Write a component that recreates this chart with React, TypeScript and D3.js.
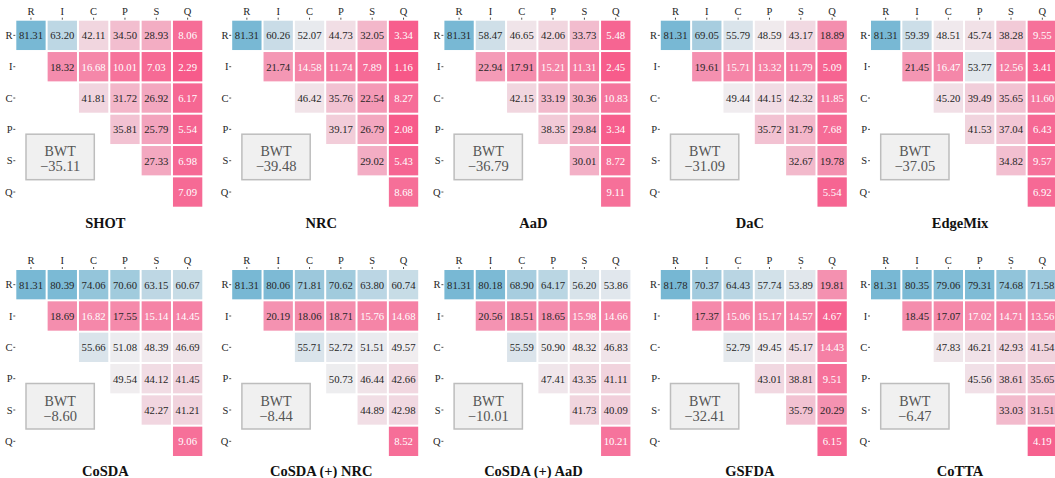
import React from "react";
import * as d3 from "d3";

// ---------- data ----------
const LABELS = ["R", "I", "C", "P", "S", "Q"];
const METHODS = ["SHOT", "NRC", "AaD", "DaC", "EdgeMix", "CoSDA", "CoSDA (+) NRC", "CoSDA (+) AaD", "GSFDA", "CoTTA"];

const SHOT = [
  [81.31, 63.2, 42.11, 34.5, 28.93, 8.06],
  [18.32, 16.68, 10.01, 7.03, 2.29],
  [41.81, 31.72, 26.92, 6.17],
  [35.81, 25.79, 5.54],
  [27.33, 6.98],
  [7.09],
];
const NRC = [
  [81.31, 60.26, 52.07, 44.73, 32.05, 3.34],
  [21.74, 14.58, 11.74, 7.89, 1.16],
  [46.42, 35.76, 22.54, 8.27],
  [39.17, 26.79, 2.08],
  [29.02, 5.43],
  [8.68],
];
const AAD = [
  [81.31, 58.47, 46.65, 42.06, 33.73, 5.48],
  [22.94, 17.91, 15.21, 11.31, 2.45],
  [42.15, 33.19, 30.36, 10.83],
  [38.35, 29.84, 3.34],
  [30.01, 8.72],
  [9.11],
];
const DAC = [
  [81.31, 69.05, 55.79, 48.59, 43.17, 18.89],
  [19.61, 15.71, 13.32, 11.79, 5.09],
  [49.44, 44.15, 42.32, 11.85],
  [35.72, 31.79, 7.68],
  [32.67, 19.78],
  [5.54],
];
const EDGEMIX = [
  [81.31, 59.39, 48.51, 45.74, 38.28, 9.55],
  [21.45, 16.47, 53.77, 12.56, 3.41],
  [45.2, 39.49, 35.65, 11.6],
  [41.53, 37.04, 6.43],
  [34.82, 9.57],
  [6.92],
];
const COSDA = [
  [81.31, 80.39, 74.06, 70.6, 63.15, 60.67],
  [18.69, 16.82, 17.55, 15.14, 14.45],
  [55.66, 51.08, 48.39, 46.69],
  [49.54, 44.12, 41.45],
  [42.27, 41.21],
  [9.06],
];
const COSDA_NRC = [
  [81.31, 80.06, 71.81, 70.62, 63.8, 60.74],
  [20.19, 18.06, 18.71, 15.76, 14.68],
  [55.71, 52.72, 51.51, 49.57],
  [50.73, 46.44, 42.66],
  [44.89, 42.98],
  [8.52],
];
const COSDA_AAD = [
  [81.31, 80.18, 68.9, 64.17, 56.2, 53.86],
  [20.56, 18.51, 18.65, 15.98, 14.66],
  [55.59, 50.9, 48.32, 46.83],
  [47.41, 43.35, 41.11],
  [41.73, 40.09],
  [10.21],
];
const GSFDA = [
  [81.78, 70.37, 64.43, 57.74, 53.89, 19.81],
  [17.37, 15.06, 15.17, 14.57, 4.67],
  [52.79, 49.45, 45.17, 14.43],
  [43.01, 38.81, 9.51],
  [35.79, 20.29],
  [6.15],
];
const COTTA = [
  [81.31, 80.35, 79.06, 79.31, 74.68, 71.58],
  [18.45, 17.07, 17.02, 14.71, 13.56],
  [47.83, 46.21, 42.93, 41.54],
  [45.56, 38.61, 35.65],
  [33.03, 31.51],
  [4.19],
];
const MATRICES = [SHOT, NRC, AAD, DAC, EDGEMIX, COSDA, COSDA_NRC, COSDA_AAD, GSFDA, COTTA];
const BWT = [-35.11, -39.48, -36.79, -31.09, -37.05, -8.6, -8.44, -10.01, -32.41, -6.47];

// ---------- layout / style ----------
const W = 1055;
const H = 478;
const COL_LEFT = [15.3, 231.2, 443.4, 659.8, 870];
const ROW_TOP = [19.7, 269];
const TITLE_BASE = [228.5, 475.5];
const SIZE = 188;
const FONT = "Liberation Serif, Times New Roman, DejaVu Serif, serif";
const DARK = "#262626";

const color = d3
  .scaleLinear<string>()
  .domain([0, 50, 100])
  .range(["rgb(247,84,134)", "rgb(240,238,240)", "rgb(48,152,195)"])
  .interpolate(d3.interpolateRgb)
  .clamp(true);

function lum(col: string) {
  const c = d3.rgb(col);
  const lin = (v: number) => {
    const s = v / 255;
    return s <= 0.03928 ? s / 12.92 : Math.pow((s + 0.055) / 1.055, 2.4);
  };
  return 0.2126 * lin(c.r) + 0.7152 * lin(c.g) + 0.0722 * lin(c.b);
}
const LUM_THR = lum(color(17.2));
function textColor(bg: string) {
  return lum(bg) < LUM_THR ? "#ffffff" : DARK;
}

function Panel({ idx }: { idx: number }) {
  const row = Math.floor(idx / 5);
  const col = idx % 5;
  const x0 = COL_LEFT[col];
  const y0 = ROW_TOP[row];
  const mat = MATRICES[idx];
  const xs = d3.scaleBand().domain(LABELS).range([0, SIZE]);
  const ys = d3.scaleBand().domain(LABELS).range([0, SIZE]);
  const bw = xs.bandwidth();
  const cells: { r: string; c: string; v: number }[] = [];
  mat.forEach((vals, i) => {
    vals.forEach((v, k) => {
      cells.push({ r: LABELS[i], c: LABELS[i + k], v });
    });
  });
  const bx = 10.7;
  const by = 114.5;
  const bwid = 68.3;
  const bh = 45.5;
  return (
    <g transform={`translate(${x0},${y0})`}>
      {cells.map((d, i) => {
        const fill = color(d.v);
        return (
          <g key={i}>
            <rect x={xs(d.c)! + 1} y={ys(d.r)! + 1} width={bw - 2} height={bw - 2} fill={fill} />
            <text
              x={xs(d.c)! + bw / 2}
              y={ys(d.r)! + bw / 2}
              textAnchor="middle"
              dominantBaseline="central"
              fontSize={10.7}
              style={{ fontFamily: FONT }}
              fill={textColor(fill)}
            >
              {d.v.toFixed(2)}
            </text>
          </g>
        );
      })}
      {LABELS.map((l) => (
        <g key={"c" + l}>
          <line x1={xs(l)! + bw / 2} x2={xs(l)! + bw / 2} y1={-2} y2={0} stroke={DARK} strokeWidth={0.8} />
          <text x={xs(l)! + bw / 2} y={-4.8} textAnchor="middle" fontSize={10.5} style={{ fontFamily: FONT }} fill={DARK}>
            {l}
          </text>
          <line x1={-2} x2={0} y1={ys(l)! + bw / 2} y2={ys(l)! + bw / 2} stroke={DARK} strokeWidth={0.8} />
          <text
            x={-2.8}
            y={ys(l)! + bw / 2}
            textAnchor="end"
            dominantBaseline="central"
            fontSize={10.5}
            style={{ fontFamily: FONT }}
            fill={DARK}
          >
            {l}
          </text>
        </g>
      ))}
      <rect x={bx} y={by} width={bwid} height={bh} fill="#f0f0f0" stroke="#bdbdbd" strokeWidth={1.5} />
      <text x={bx + bwid / 2} y={by + 22} textAnchor="middle" fontSize={14} style={{ fontFamily: FONT }} fill="#555555">
        BWT
      </text>
      <text x={bx + bwid / 2} y={by + 37} textAnchor="middle" fontSize={14.5} style={{ fontFamily: FONT }} fill="#555555">
        {"\u2212" + Math.abs(BWT[idx]).toFixed(2)}
      </text>
      <text
        x={SIZE / 2 - 4}
        y={TITLE_BASE[row] - y0}
        textAnchor="middle"
        fontSize={14.5}
        fontWeight="bold"
        style={{ fontFamily: FONT }}
        fill="#111111"
      >
        {METHODS[idx]}
      </text>
    </g>
  );
}

export default function App() {
  return (
    <svg
      width={W}
      height={H}
      viewBox={`0 0 ${W} ${H}`}
      style={{ position: "absolute", left: 0, top: 0, background: "#ffffff" }}
    >
      <rect x={0} y={0} width={W} height={H} fill="#ffffff" />
      {METHODS.map((m, i) => (
        <Panel key={m} idx={i} />
      ))}
    </svg>
  );
}
